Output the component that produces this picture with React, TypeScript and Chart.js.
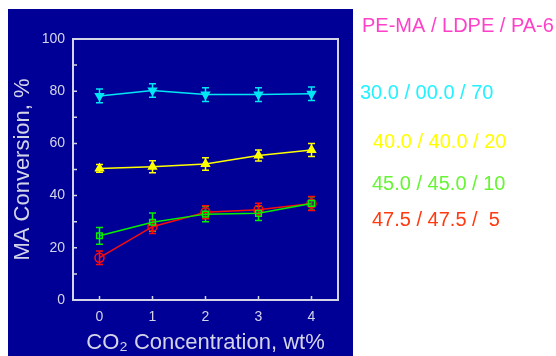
import React, { useEffect, useRef } from 'react';
import { Chart, registerables } from 'chart.js';

Chart.register(...registerables);

const categories = ['0', '1', '2', '3', '4'];
const legendTitle = 'PE-MA / LDPE / PA-6';
const seriesLabels = ['30.0 / 00.0 / 70', '40.0 / 40.0 / 20', '45.0 / 45.0 / 10', '47.5 / 47.5 /  5'];

const cyanValues = [78.2, 80.3, 78.7, 78.7, 79.0];
const cyanErrors = [2.6, 2.6, 2.6, 2.6, 2.6];
const yellowValues = [50.4, 51.1, 52.1, 55.4, 57.5];
const yellowErrors = [1.5, 2.3, 2.4, 2.1, 2.5];
const greenValues = [24.6, 29.8, 32.9, 33.2, 37.0];
const greenErrors = [3.2, 3.5, 2.9, 2.7, 2.6];
const redValues = [16.2, 28.1, 33.6, 34.6, 37.0];
const redErrors = [2.6, 2.6, 2.5, 2.5, 2.7];

const yTickValues = [0, 20, 40, 60, 80, 100];

const FONT = "'Liberation Sans', Arial, sans-serif";
const AXIS_COLOR = '#d4d4e8';
const NAVY = '#000096';

const lineColors = ['#00e6f5', '#ffff00', '#00f000', '#ff0a0a'];
const legendColors = ['#22f2ff', '#ffff00', '#66f533', '#ff3a10'];
const legendTitleColor = '#ff40c8';

const overlayPlugin = {
  id: 'overlay',
  beforeDatasetsDraw(chart: any) {
    const ctx = chart.ctx;
    const yScale = chart.scales.y;
    chart.data.datasets.forEach((ds: any, di: number) => {
      const meta = chart.getDatasetMeta(di);
      ctx.save();
      ctx.strokeStyle = ds.borderColor;
      ctx.lineWidth = 1.5;
      ds.data.forEach((v: number, i: number) => {
        const e = ds.errors[i];
        const x = meta.data[i].x;
        const yTop = yScale.getPixelForValue(v + e);
        const yBot = yScale.getPixelForValue(v - e);
        ctx.beginPath();
        ctx.moveTo(x, yTop);
        ctx.lineTo(x, yBot);
        ctx.moveTo(x - 3.5, yTop);
        ctx.lineTo(x + 3.5, yTop);
        ctx.moveTo(x - 3.5, yBot);
        ctx.lineTo(x + 3.5, yBot);
        ctx.stroke();
      });
      ctx.restore();
    });
  },
  afterDraw(chart: any) {
    const ctx = chart.ctx;
    const { left, right, top, bottom } = chart.chartArea;
    const xScale = chart.scales.x;
    const yScale = chart.scales.y;
    ctx.save();
    ctx.strokeStyle = AXIS_COLOR;
    ctx.lineWidth = 2;
    ctx.strokeRect(left, top, right - left, bottom - top);
    ctx.lineWidth = 1.5;
    ctx.beginPath();
    yScale.ticks.forEach((t: any) => {
      const y = yScale.getPixelForValue(t.value);
      ctx.moveTo(left, y);
      ctx.lineTo(left + 4, y);
    });
    categories.forEach((_, i) => {
      const x = xScale.getPixelForValue(i);
      ctx.moveTo(x, bottom);
      ctx.lineTo(x, bottom - 4);
    });
    ctx.stroke();

    ctx.font = `20px ${FONT}`;
    ctx.textBaseline = 'middle';
    ctx.textAlign = 'left';
    ctx.fillStyle = legendTitleColor;
    ctx.fillText(legendTitle, 362, 26);
    const pos = [
      [360, 93],
      [373, 142],
      [372, 184],
      [372, 220],
    ];
    seriesLabels.forEach((lbl, i) => {
      ctx.fillStyle = legendColors[i];
      ctx.fillText(lbl, pos[i][0], pos[i][1]);
    });
    ctx.restore();
  },
};

export default function App() {
  const ref = useRef<HTMLCanvasElement>(null);
  useEffect(() => {
    if (!ref.current) return;
    const mk = (label: string, data: number[], errors: number[], color: string, style: string, rotation: number, filled: boolean) => ({
      label,
      data,
      errors,
      borderColor: color,
      backgroundColor: color,
      borderWidth: 1.5,
      pointStyle: style,
      rotation,
      pointRadius: style === 'rect' ? 4 : 4.5,
      pointBorderWidth: 1.5,
      pointBorderColor: color,
      pointBackgroundColor: filled ? color : 'rgba(0,0,0,0)',
      tension: 0,
      fill: false,
    });
    const chart = new Chart(ref.current, {
      type: 'line',
      data: {
        labels: categories,
        datasets: [
          mk(seriesLabels[0], cyanValues, cyanErrors, lineColors[0], 'triangle', 180, true),
          mk(seriesLabels[1], yellowValues, yellowErrors, lineColors[1], 'triangle', 0, true),
          mk(seriesLabels[2], greenValues, greenErrors, lineColors[2], 'rect', 0, false),
          mk(seriesLabels[3], redValues, redErrors, lineColors[3], 'circle', 0, false),
        ] as any,
      },
      options: {
        responsive: false,
        animation: false,
        layout: { padding: { left: 0, top: 39, right: 218, bottom: 0 } },
        plugins: { legend: { display: false }, tooltip: { enabled: false } },
        scales: {
          x: {
            type: 'category',
            offset: true,
            grid: { display: false, drawTicks: false },
            border: { display: false },
            ticks: { color: AXIS_COLOR, font: { family: FONT, size: 14 }, padding: 9, maxRotation: 0 },
            title: {
              display: true,
              text: 'CO₂ Concentration, wt%',
              color: AXIS_COLOR,
              font: { family: FONT, size: 22 },
              padding: { top: 0, bottom: 0 },
            },
            afterFit: (s: any) => {
              s.height = 56;
            },
          },
          y: {
            min: 0,
            max: 100,
            grid: { display: false, drawTicks: false },
            border: { display: false },
            ticks: {
              stepSize: 10,
              color: AXIS_COLOR,
              font: { family: FONT, size: 14 },
              padding: 8,
              callback: (v: any) => (yTickValues.includes(Number(v)) ? String(v) : ''),
            },
            title: {
              display: true,
              text: 'MA Conversion, %',
              color: AXIS_COLOR,
              font: { family: FONT, size: 22 },
              padding: { top: 10, bottom: 0 },
            },
            afterFit: (s: any) => {
              s.width = 73;
            },
          },
        },
      } as any,
      plugins: [overlayPlugin],
    });
    return () => chart.destroy();
  }, []);
  return (
    <div style={{ position: 'absolute', left: 0, top: 0, width: 556, height: 356, overflow: 'hidden', background: '#ffffff' }}>
      <div style={{ position: 'absolute', left: 8, top: 9, width: 345, height: 347, background: NAVY }} />
      <canvas ref={ref} width={556} height={356} style={{ position: 'absolute', left: 0, top: 0, width: 556, height: 356 }} />
    </div>
  );
}
